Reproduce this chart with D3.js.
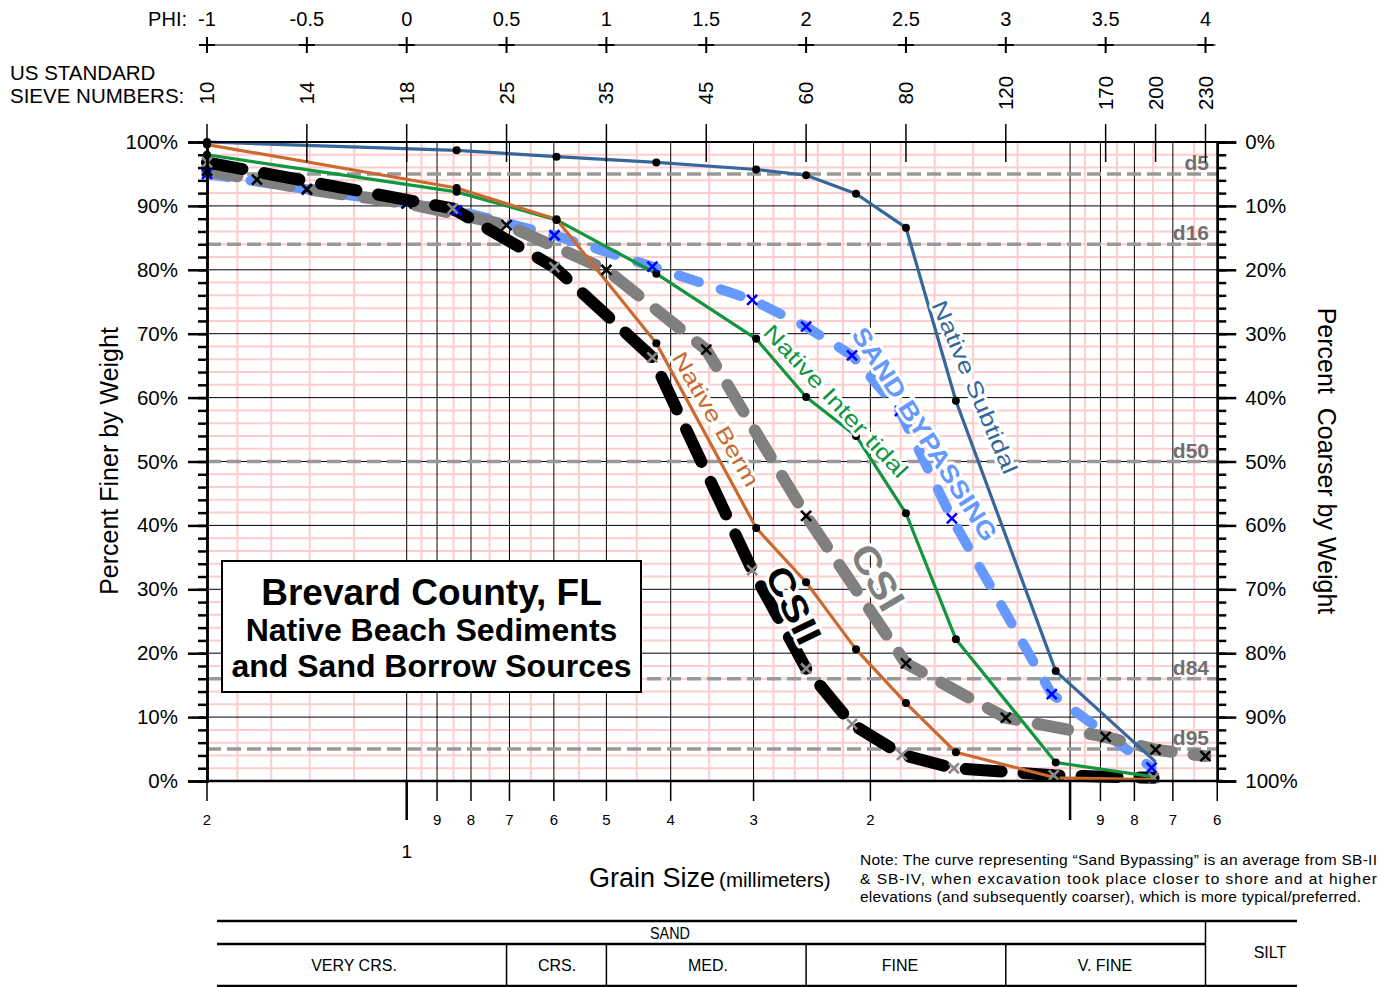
<!DOCTYPE html>
<html>
<head>
<meta charset="utf-8">
<script src="https://cdn.jsdelivr.net/npm/d3@7"></script>
<style>
body{margin:0;background:#fff;}
svg{font-family:"Liberation Sans",Arial,Helvetica,sans-serif;}
</style>
</head>
<body>
<svg id="chart" width="1380" height="987"></svg>
<script>
// grain size data, x in phi units, y in percent finer by weight
var subtidalPhi = [-1, 0.25, 0.75, 1.25, 1.75, 2.0, 2.25, 2.5, 2.75, 3.25, 3.75];
var subtidalPct = [100, 98.7, 97.7, 96.8, 95.7, 94.8, 91.9, 86.6, 59.5, 17.2, 3.0];

var intertidalPhi = [-1, 0.25, 0.75, 1.25, 1.75, 2.0, 2.25, 2.5, 2.75, 3.25, 3.75];
var intertidalPct = [98.0, 92.2, 87.8, 79.4, 69.2, 60.1, 54.0, 41.9, 22.2, 2.9, 0.6];

var bermPhi = [-1, 0.25, 0.75, 1.25, 1.75, 2.0, 2.25, 2.5, 2.75, 3.25, 3.75];
var bermPct = [99.6, 92.8, 87.9, 68.5, 39.6, 31.1, 20.6, 12.2, 4.5, 0.5, 0.2];

var bypassPhi = [-1, -0.5, 0, 0.25, 0.74, 1.23, 1.73, 2.0, 2.23, 2.47, 2.73, 3.23, 3.73];
var bypassPct = [95.0, 92.6, 90.4, 89.3, 85.4, 80.5, 75.3, 71.1, 66.6, 57.9, 41.1, 13.6, 2.1];

var csiPhi = [-1, -0.75, -0.5, 0, 0.5, 1.0, 1.5, 2.0, 2.5, 3.0, 3.5, 3.75, 4.0];
var csiPct = [95.5, 94.1, 92.6, 90.4, 87.0, 80.0, 67.5, 41.5, 18.4, 9.9, 6.9, 4.9, 3.9];

var csiiPhi = [-1, 0.23, 0.74, 1.23, 1.73, 2.0, 2.23, 2.48, 2.74, 3.24, 3.74];
var csiiPct = [96.8, 89.6, 80.4, 66.3, 33.0, 17.6, 8.9, 4.1, 2.0, 0.9, 0.5];

// axis labels
var phiTicks = [-1, -0.5, 0, 0.5, 1, 1.5, 2, 2.5, 3, 3.5, 4];
var sieveNumbers = ["10", "14", "18", "25", "35", "45", "60", "80", "120", "170", "200", "230"];
var sievePhi = [-1, -0.5, 0, 0.5, 1, 1.5, 2, 2.5, 3, 3.5, 3.75, 4];
var mmBlack = [1, 0.9, 0.8, 0.7, 0.6, 0.5, 0.4, 0.3, 0.2, 0.1, 0.09, 0.08, 0.07];
var mmPink = [1.8, 1.6, 1.4, 1.2, 0.95, 0.85, 0.75, 0.65, 0.55, 0.45, 0.35, 0.28, 0.26, 0.24, 0.22,
              0.18, 0.16, 0.14, 0.12, 0.095, 0.085, 0.075, 0.065];
var mmLabels = [2, 0.9, 0.8, 0.7, 0.6, 0.5, 0.4, 0.3, 0.2, 0.09, 0.08, 0.07, 0.06];
var mmLabelText = ["2", "9", "8", "7", "6", "5", "4", "3", "2", "9", "8", "7", "6"];
var dLevels = [95, 84, 50, 16, 5];
var dNames = ["d5", "d16", "d50", "d84", "d95"];
var classNames = ["VERY CRS.", "CRS.", "MED.", "FINE", "V. FINE"];
var classPhi = [-1, 0.5, 1, 2, 3, 4];

var svg = d3.select("#chart");

var x = d3.scaleLinear().domain([-1, 4]).range([207, 1205.5]);
var y = d3.scaleLinear().domain([0, 100]).range([781, 142]);
function mmX(mm) { return x(-Math.log2(mm)); }
var xLeft = x(-1), xRight = mmX(0.06);

//-------------
//- grid -
//-------------
var grid = svg.append("g");
grid.selectAll(".ph").data(d3.range(2, 100, 2).filter(function(d) { return d % 10; }))
  .enter().append("line")
  .attr("x1", xLeft).attr("x2", xRight)
  .attr("y1", function(d) { return y(d); }).attr("y2", function(d) { return y(d); })
  .attr("stroke", "#ffcccc").attr("stroke-width", 2);
grid.selectAll(".pv").data(mmPink)
  .enter().append("line")
  .attr("x1", mmX).attr("x2", mmX)
  .attr("y1", y(0)).attr("y2", y(100))
  .attr("stroke", "#ffcccc").attr("stroke-width", 2);
grid.selectAll(".bh").data(d3.range(10, 100, 10))
  .enter().append("line")
  .attr("x1", xLeft).attr("x2", xRight)
  .attr("y1", function(d) { return y(d); }).attr("y2", function(d) { return y(d); })
  .attr("stroke", "#000").attr("stroke-width", 1);
grid.selectAll(".bv").data(mmBlack)
  .enter().append("line")
  .attr("x1", mmX).attr("x2", mmX)
  .attr("y1", y(0)).attr("y2", y(100))
  .attr("stroke", "#000").attr("stroke-width", 1);

// d-lines
dLevels.forEach(function(v, i) {
  svg.append("line")
    .attr("x1", xLeft).attr("x2", xRight)
    .attr("y1", y(v)).attr("y2", y(v))
    .attr("stroke", "#999").attr("stroke-width", 3.5)
    .attr("stroke-dasharray", "14,6");
  svg.append("text")
    .attr("x", 1209).attr("y", y(v) - 4)
    .attr("text-anchor", "end")
    .attr("font-size", 21).attr("font-weight", "bold")
    .attr("fill", "#707070")
    .text(dNames[i]);
});

//-------------
//- curves -
//-------------
var line = d3.line()
  .x(function(d) { return x(d[0]); })
  .y(function(d) { return y(d[1]); });

function pairs(a, b) { return a.map(function(v, i) { return [v, b[i]]; }); }

var bypass = pairs(bypassPhi, bypassPct);
var csi = pairs(csiPhi, csiPct);
var csii = pairs(csiiPhi, csiiPct);
var subtidal = pairs(subtidalPhi, subtidalPct);
var intertidal = pairs(intertidalPhi, intertidalPct);
var berm = pairs(bermPhi, bermPct);

svg.append("path").datum(bypass).attr("d", line)
  .attr("fill", "none").attr("stroke", "#6699ff").attr("stroke-width", 10)
  .attr("stroke-linecap", "round").attr("stroke-dasharray", "21,23");
svg.append("path").datum(csi).attr("d", line)
  .attr("fill", "none").attr("stroke", "#808080").attr("stroke-width", 12)
  .attr("stroke-linecap", "round").attr("stroke-dasharray", "31,22");
svg.append("path").datum(csii).attr("d", line)
  .attr("fill", "none").attr("stroke", "#000").attr("stroke-width", 12)
  .attr("stroke-linecap", "round").attr("stroke-dasharray", "36,22");

[[subtidal, "#35679b"], [intertidal, "#12963d"], [berm, "#cb6a30"]].forEach(function(s) {
  svg.append("path").datum(s[0]).attr("d", line)
    .attr("fill", "none").attr("stroke", s[1]).attr("stroke-width", 3.2)
    .attr("stroke-linejoin", "round");
});

// dots on native curves
[subtidal, intertidal, berm].forEach(function(s) {
  svg.append("g").selectAll("circle").data(s.slice(0, -1))
    .enter().append("circle")
    .attr("cx", function(d) { return x(d[0]); })
    .attr("cy", function(d) { return y(d[1]); })
    .attr("r", 4).attr("fill", "#000");
});

// x markers
var cross = "M-5,-5L5,5M-5,5L5,-5";
[[bypass, "#0000ff"], [csi, "#000"], [csii, "#8a8a8a"]].forEach(function(s) {
  svg.append("g").selectAll("path").data(s[0])
    .enter().append("path")
    .attr("d", cross)
    .attr("transform", function(d) { return "translate(" + x(d[0]) + "," + y(d[1]) + ")"; })
    .attr("stroke", s[1]).attr("stroke-width", 2.6).attr("fill", "none");
});

// curve labels
var curveLabels = [
  {t: "Native Subtidal", cx: 975, cy: 387, a: 67, len: 186, fs: 22, w: "normal", c: "#35679b"},
  {t: "SAND BYPASSING", cx: 925, cy: 434, a: 57.5, len: 248, fs: 25, w: "bold", c: "#6699ff"},
  {t: "Native Inter tidal", cx: 836, cy: 401, a: 47, len: 200, fs: 22, w: "normal", c: "#12963d"},
  {t: "Native Berm", cx: 716, cy: 419, a: 60, len: 152, fs: 22, w: "normal", c: "#cb6a30"},
  {t: "CSI", cx: 878, cy: 577, a: 60, len: 70, fs: 38, w: "bold", c: "#808080"},
  {t: "CSII", cx: 794, cy: 605, a: 64, len: 82, fs: 36, w: "bold", c: "#000"}
];
curveLabels.forEach(function(l) {
  svg.append("text")
    .attr("transform", "translate(" + l.cx + "," + l.cy + ") rotate(" + l.a + ")")
    .attr("text-anchor", "middle").attr("dy", "0.36em")
    .attr("font-size", l.fs).attr("font-weight", l.w)
    .attr("textLength", l.len).attr("lengthAdjust", "spacingAndGlyphs")
    .attr("fill", l.c).attr("stroke", "#fff").attr("stroke-width", 6)
    .attr("stroke-linejoin", "round").attr("paint-order", "stroke")
    .text(l.t);
});

// title box
svg.append("rect").attr("x", 222).attr("y", 561).attr("width", 419).attr("height", 131)
  .attr("fill", "#fff").attr("stroke", "#000").attr("stroke-width", 2);
[["Brevard County, FL", 605, 37], ["Native Beach Sediments", 641, 32], ["and Sand Borrow Sources", 677, 32]]
  .forEach(function(t) {
    svg.append("text").attr("x", 431.5).attr("y", t[1])
      .attr("text-anchor", "middle").attr("font-weight", "bold")
      .attr("font-size", t[2]).text(t[0]);
  });

//-------------
//- axes -
//-------------
svg.append("line").attr("x1", xLeft).attr("x2", xRight).attr("y1", y(100)).attr("y2", y(100))
  .attr("stroke", "#000").attr("stroke-width", 2);
svg.append("line").attr("x1", xLeft).attr("x2", xRight + 6).attr("y1", y(0)).attr("y2", y(0))
  .attr("stroke", "#000").attr("stroke-width", 2.5);

var leftMinor = svg.append("g").attr("transform", "translate(" + xLeft + ",0)")
  .call(d3.axisLeft(y).tickValues(d3.range(0, 101, 2)).tickSize(9).tickFormat(""));
var leftMajor = svg.append("g").attr("transform", "translate(" + xLeft + ",0)")
  .call(d3.axisLeft(y).tickValues(d3.range(0, 101, 10)).tickSize(19).tickPadding(10)
    .tickFormat(function(d) { return d + "%"; }));
var rightMinor = svg.append("g").attr("transform", "translate(" + xRight + ",0)")
  .call(d3.axisRight(y).tickValues(d3.range(0, 101, 2)).tickSize(9).tickFormat(""));
var rightMajor = svg.append("g").attr("transform", "translate(" + xRight + ",0)")
  .call(d3.axisRight(y).tickValues(d3.range(0, 101, 10)).tickSize(19).tickPadding(9)
    .tickFormat(function(d) { return (100 - d) + "%"; }));
[leftMinor, leftMajor, rightMinor, rightMajor].forEach(function(g) {
  g.selectAll(".domain").attr("stroke-width", 2.5);
  g.selectAll(".tick line").attr("stroke-width", 2.5);
  g.selectAll(".tick text").attr("font-size", 20.5).attr("font-family", "Liberation Sans, Arial, sans-serif").attr("fill", "#000");
});

svg.append("text").attr("transform", "translate(118,461) rotate(-90)")
  .attr("text-anchor", "middle").attr("font-size", 25).text("Percent Finer by Weight");
svg.append("text").attr("transform", "translate(1318,461) rotate(90)")
  .attr("text-anchor", "middle").attr("font-size", 25).attr("xml:space", "preserve")
  .style("white-space", "pre").text("Percent  Coarser by Weight");

// phi axis on top
svg.append("line").attr("x1", xLeft).attr("x2", x(4) + 10).attr("y1", 45).attr("y2", 45)
  .attr("stroke", "#777").attr("stroke-width", 2);
phiTicks.forEach(function(p) {
  var px = x(p);
  svg.append("path").attr("d", "M" + (px - 8) + ",45H" + (px + 8) + "M" + px + ",37V53")
    .attr("stroke", "#000").attr("stroke-width", 2);
  svg.append("text").attr("x", px).attr("y", 26).attr("text-anchor", "middle")
    .attr("font-size", 20).text(p);
});
svg.append("text").attr("x", 187).attr("y", 26).attr("text-anchor", "end")
  .attr("font-size", 20).text("PHI:");

// sieve numbers
svg.append("text").attr("x", 10).attr("y", 80).attr("font-size", 20.5).text("US STANDARD");
svg.append("text").attr("x", 10).attr("y", 103).attr("font-size", 20.5).text("SIEVE NUMBERS:");
sievePhi.forEach(function(p, i) {
  var px = x(p);
  svg.append("text").attr("transform", "translate(" + (px + 7) + ",93) rotate(-90)")
    .attr("text-anchor", "middle").attr("font-size", 20.5).text(sieveNumbers[i]);
  svg.append("line").attr("x1", px).attr("x2", px).attr("y1", 124).attr("y2", 162)
    .attr("stroke", "#000").attr("stroke-width", 1.5);
});

// grain size axis at bottom
mmLabels.forEach(function(mm, i) {
  var px = mmX(mm);
  svg.append("line").attr("x1", px).attr("x2", px).attr("y1", 781).attr("y2", 801)
    .attr("stroke", "#000").attr("stroke-width", 1.5);
  svg.append("text").attr("x", px).attr("y", 825).attr("text-anchor", "middle")
    .attr("font-size", 15).text(mmLabelText[i]);
});
[1, 0.1].forEach(function(mm) {
  svg.append("line").attr("x1", mmX(mm)).attr("x2", mmX(mm)).attr("y1", 781).attr("y2", 820)
    .attr("stroke", "#000").attr("stroke-width", 2.5);
});
svg.append("text").attr("x", mmX(1)).attr("y", 858).attr("text-anchor", "middle")
  .attr("font-size", 19).text("1");

var gs = svg.append("text").attr("x", 589).attr("y", 887);
gs.append("tspan").attr("font-size", 27).text("Grain Size");
gs.append("tspan").attr("font-size", 20.5).attr("dx", 4).text("(millimeters)");

var note = [
  "Note: The curve representing \u201cSand Bypassing\u201d is an average from SB-II",
  "& SB-IV, when excavation took place closer to shore and at higher",
  "elevations (and subsequently coarser), which is more typical/preferred."
];
var noteLen = [517, 517, 501];
note.forEach(function(t, i) {
  svg.append("text").attr("x", 860).attr("y", 865 + i * 18.5)
    .attr("font-size", 15.5).attr("textLength", noteLen[i]).attr("lengthAdjust", "spacing")
    .text(t);
});

// size class table
var tbl = svg.append("g").attr("stroke", "#000");
tbl.append("line").attr("x1", 217).attr("x2", 1297).attr("y1", 921).attr("y2", 921).attr("stroke-width", 2.5);
tbl.append("line").attr("x1", 217).attr("x2", x(4)).attr("y1", 944).attr("y2", 944).attr("stroke-width", 2.5);
tbl.append("line").attr("x1", 217).attr("x2", 1297).attr("y1", 986).attr("y2", 986).attr("stroke-width", 2.5);
tbl.append("line").attr("x1", x(4)).attr("x2", x(4)).attr("y1", 921).attr("y2", 986).attr("stroke-width", 1.5);
classPhi.slice(1, -1).forEach(function(p) {
  tbl.append("line").attr("x1", x(p)).attr("x2", x(p)).attr("y1", 944).attr("y2", 986).attr("stroke-width", 1.5);
});
var classCx = [354, 557, 708, 900, 1105];
svg.append("text").attr("x", 670).attr("y", 939).attr("text-anchor", "middle")
  .attr("font-size", 16).attr("textLength", 40).attr("lengthAdjust", "spacingAndGlyphs").text("SAND");
classNames.forEach(function(n, i) {
  svg.append("text").attr("x", classCx[i]).attr("y", 971).attr("text-anchor", "middle")
    .attr("font-size", 16).text(n);
});
svg.append("text").attr("x", 1270).attr("y", 958).attr("text-anchor", "middle")
  .attr("font-size", 16).text("SILT");
</script>
</body>
</html>
